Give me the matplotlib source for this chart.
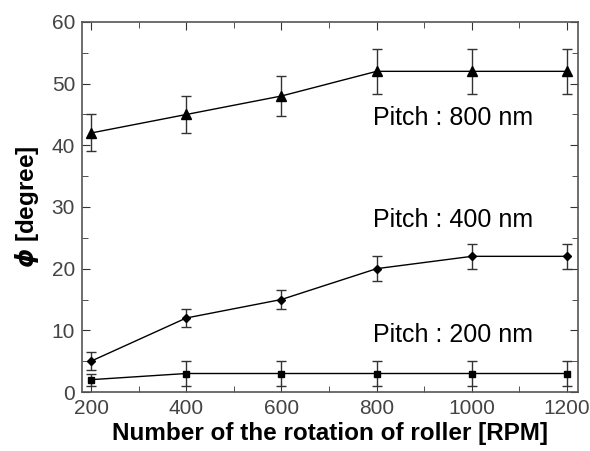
import numpy as np
import matplotlib
matplotlib.use("Agg")
import matplotlib.pyplot as plt
from matplotlib.ticker import MultipleLocator

plt.rcParams["font.family"] = ["Liberation Sans", "DejaVu Sans"]

# -- Data ----------------------------------------------------------------------

rpm = [200, 400, 600, 800, 1000, 1200]

phi_800 = [42, 45, 48, 52, 52, 52]
err_800 = [3.0, 3.0, 3.3, 3.6, 3.6, 3.6]

phi_400 = [5, 12, 15, 20, 22, 22]
err_400 = [1.5, 1.5, 1.5, 2.0, 2.0, 2.0]

phi_200 = [2, 3, 3, 3, 3, 3]
err_200 = [1.0, 2.0, 2.0, 2.0, 2.0, 2.0]

labels = ["Pitch : 800 nm", "Pitch : 400 nm", "Pitch : 200 nm"]
label_y = [44.4, 27.9, 9.2]

# -- Plot ----------------------------------------------------------------------

fig = plt.figure(figsize=(5.9, 4.51), dpi=100)
ax = fig.add_axes([82 / 590, 59 / 451, 496 / 590, 370 / 451])

common = dict(color="black", linewidth=1.0, ecolor="#333333", elinewidth=1.0,
              capsize=3.5, capthick=1.0)
ax.errorbar(rpm, phi_800, yerr=err_800, marker="^", markersize=7, **common)
ax.errorbar(rpm, phi_400, yerr=err_400, marker="D", markersize=4.5, **common)
ax.errorbar(rpm, phi_200, yerr=err_200, marker="s", markersize=5, **common)

for txt, y in zip(labels, label_y):
    ax.text(793, y, txt, fontsize=18, va="center", ha="left")

ax.set_xlim(181, 1223)
ax.set_ylim(0, 60)
ax.xaxis.set_major_locator(MultipleLocator(200))
ax.xaxis.set_minor_locator(MultipleLocator(100))
ax.yaxis.set_major_locator(MultipleLocator(10))
ax.yaxis.set_minor_locator(MultipleLocator(5))
ax.tick_params(which="both", direction="in", top=True, right=True,
               labelsize=15, labelcolor="#444444", color="#333333")
ax.tick_params(which="major", length=6, pad=5)
ax.tick_params(which="minor", length=4)
for sp in ax.spines.values():
    sp.set_color("#555555")
    sp.set_linewidth(1.2)

ax.set_xlabel("Number of the rotation of roller [RPM]", fontsize=17.5,
              fontweight="bold", labelpad=3)
ax.set_ylabel(r"$\boldsymbol{\phi}$ [degree]", fontsize=17.5, fontweight="bold",
              labelpad=8)

fig.savefig("out.png", dpi=100)
